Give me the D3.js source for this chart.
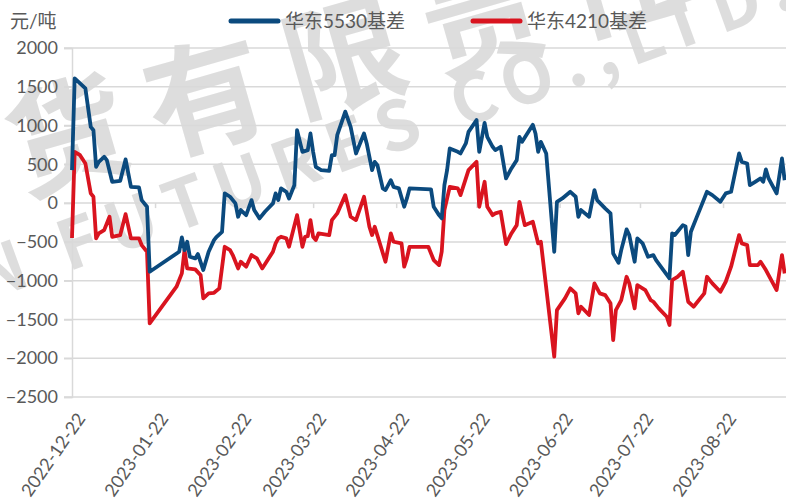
<!DOCTYPE html>
<html><head><meta charset="utf-8">
<script src="https://cdn.jsdelivr.net/npm/d3@7/dist/d3.min.js"></script>
<style>body{margin:0;background:#fff}svg{display:block}</style>
</head><body><svg id="c" width="786" height="501"></svg>
<script>
// ---- data ----
const startDate = "2022-12-22";
const endDay = 266.5;                       // last visible day offset
const tickLabels = ["2022-12-22","2023-01-22","2023-02-22","2023-03-22","2023-04-22","2023-05-22","2023-06-22","2023-07-22","2023-08-22"];
const yTicks = [2000,1500,1000,500,0,-500,-1000,-1500,-2000,-2500];
const seriesNames = ["华东5530基差","华东4210基差"];
const seriesColors = ["#0b4a7e","#d9141f"];
const unitLabel = "元/吨";
const watermarkCn = "货有限责任";
const watermarkEn = "N FUTURES CO.,LTD.";

// day offsets from startDate and values (元/吨)
const days5530 = [0,1,3,5,7,8,9,10,12,13,15,18,20,22,25,26,28,29,40,41,42,43,44,46,47,49,51,53,54,56,57,59,61,62,63,65,67,68,70,72,75,76,77,78,80,81,83,84,86,88,89,90,91,93,96,97,98,99,102,104,106,109,110,112,113,114,116,117,119,120,122,124,125,126,134,135,137,138,139,140,141,144,145,147,148,151,152,154,155,157,158,160,162,164,166,167,168,172,173,174,175,177,180,181,183,186,188,189,190,193,195,196,199,201,202,204,205,207,208,210,211,213,215,217,218,223,224,225,228,229,230,231,233,235,237,239,242,244,246,249,250,252,253,255,257,258,259,260,263,265,266];
const vals5530 = [425,1607,1543,1478,983,940,468,532,597,554,275,288,563,210,202,39,-47,-885,-627,-442,-606,-498,-692,-713,-657,-863,-627,-477,-434,-370,125,82,-4,-176,-90,-155,39,-90,-197,-112,-4,125,39,190,146,60,232,941,661,683,898,661,468,425,416,618,618,876,1180,983,640,898,769,425,532,490,190,168,296,210,190,-47,60,190,177,-47,-155,-197,232,425,705,661,640,769,919,1070,661,1035,854,726,683,726,318,447,554,854,790,1010,898,661,790,640,-627,17,60,146,82,-176,-90,-176,168,39,-68,-133,-649,-770,-606,-339,-412,-756,-455,-520,-692,-670,-734,-970,-391,-412,-284,-300,-670,-370,-197,-26,146,103,17,125,146,640,532,511,232,275,318,275,434,318,125,576,296];
const days4210 = [0,1,3,5,7,8,9,10,12,14,15,18,20,22,25,26,28,29,39,41,42,43,46,48,49,51,53,55,57,59,60,62,63,65,67,69,71,75,76,77,78,80,81,84,86,87,88,89,90,91,92,96,97,99,102,104,106,109,111,112,113,117,119,120,123,124,125,126,133,135,137,138,139,141,144,145,148,151,152,154,155,157,158,160,162,164,166,167,169,172,174,175,180,181,184,186,188,189,190,193,195,197,199,201,202,203,205,207,208,210,211,214,216,217,219,222,223,224,226,228,230,232,236,237,239,242,244,246,249,250,252,253,256,257,259,263,265,266];
const vals4210 = [-450,661,618,511,125,82,-455,-391,-348,-176,-434,-412,-142,-455,-455,-541,-627,-1550,-1078,-906,-606,-842,-855,-928,-1228,-1164,-1156,-1099,-563,-606,-670,-842,-756,-820,-670,-713,-842,-627,-520,-455,-434,-455,-563,-155,-563,-434,-425,-219,-434,-477,-391,-412,-219,-133,103,-176,-219,82,-305,-412,-305,-756,-391,-498,-520,-820,-713,-563,-563,-734,-799,-627,-90,210,190,103,425,532,-47,275,-47,-155,-133,-112,-528,-391,-284,17,-284,-241,-520,-498,-1980,-1379,-1228,-1099,-1164,-1421,-1336,-1443,-1035,-1164,-1186,-1293,-1765,-1379,-1250,-950,-1035,-1357,-1057,-1121,-1250,-1272,-1357,-1465,-1572,-992,-950,-885,-1272,-1336,-1164,-950,-1035,-1143,-1014,-820,-412,-520,-541,-799,-799,-756,-863,-1121,-670,-906];

// ---- drawing ----
const font = "Lato, 'Noto Sans CJK SC', sans-serif";
const textColor = "#595959";
const svg = d3.select("#c");
const t0 = d3.utcParse("%Y-%m-%d")(startDate);
const toDate = d => new Date(t0.getTime() + d * 864e5);

const x = d3.scaleUtc().domain([t0, toDate(endDay)]).range([72, 786]);
const y = d3.scaleLinear().domain([-2500, 2000]).range([397, 48]);

// watermark (faint)
const wm = svg.append("g").attr("fill", "#bdbdbd").attr("opacity", 0.5)
  .style("font-family", "'Noto Sans CJK SC', sans-serif").style("font-weight", 700);
wm.append("text").attr("transform", "translate(22,195) rotate(-16)")
  .style("font-size", "120px").style("letter-spacing", "24px").text(watermarkCn);
wm.append("text").attr("transform", "translate(-15,302) rotate(-20)")
  .style("font-size", "68px").style("letter-spacing", "11px").text(watermarkEn);

// gridlines
svg.append("g").selectAll("line").data(yTicks).join("line")
  .attr("x1", 64).attr("x2", 786)
  .attr("y1", d => y(d)).attr("y2", d => y(d))
  .attr("stroke", "#d9d9d9").attr("stroke-width", 1.5);

// y axis
const yAxis = svg.append("g").attr("transform", "translate(72,0)")
  .call(d3.axisLeft(y).tickValues(yTicks).tickSize(8).tickPadding(6).tickFormat(d3.format("d")));
yAxis.select(".domain").attr("stroke", "#d9d9d9").attr("stroke-width", 1.5);
yAxis.selectAll(".tick line").attr("stroke", "#d9d9d9").attr("stroke-width", 1.5);
yAxis.selectAll("text").attr("fill", textColor).style("font-family", font).style("font-size", "18px");

// x axis ticks on zero line
const tickDates = tickLabels.map(s => d3.utcParse("%Y-%m-%d")(s));
const xAxis = svg.append("g").attr("transform", `translate(0,${y(0)})`)
  .call(d3.axisBottom(x).tickValues(tickDates).tickSize(5).tickFormat(""));
xAxis.select(".domain").remove();
xAxis.selectAll(".tick line").attr("stroke", "#d9d9d9").attr("stroke-width", 1.5);

// x labels at bottom
svg.append("g").selectAll("text").data(tickDates).join("text")
  .attr("transform", d => `translate(${x(d) + 9},415) rotate(-55)`)
  .attr("text-anchor", "end").attr("dy", "0.35em")
  .attr("fill", textColor).style("font-family", font).style("font-size", "18px")
  .text((d, i) => tickLabels[i]);

// lines
const series = [
  {name: seriesNames[0], days: days5530, vals: vals5530, color: seriesColors[0]},
  {name: seriesNames[1], days: days4210, vals: vals4210, color: seriesColors[1]}
];
const line = d3.line().x(p => x(toDate(p[0]))).y(p => y(p[1]));
svg.append("g").selectAll("path").data(series.slice().reverse()).join("path")
  .attr("d", s => line(s.days.map((d, i) => [d, s.vals[i]])))
  .attr("fill", "none").attr("stroke", s => s.color)
  .attr("stroke-width", 3.8).attr("stroke-linejoin", "round");

// unit label
svg.append("text").attr("x", 10).attr("y", 28).attr("fill", textColor)
  .style("font-family", font).style("font-size", "19px").text(unitLabel);

// legend
const legendX = [231, 473];
const lg = svg.append("g").selectAll("g").data(series).join("g")
  .attr("transform", (d, i) => `translate(${legendX[i]},21)`);
lg.append("line").attr("x1", 0).attr("x2", 47).attr("stroke", d => d.color)
  .attr("stroke-width", 5).attr("stroke-linecap", "round");
lg.append("text").attr("x", 54).attr("dy", "0.35em").attr("fill", textColor)
  .style("font-family", font).style("font-size", "19px").text(d => d.name);
</script></body></html>
